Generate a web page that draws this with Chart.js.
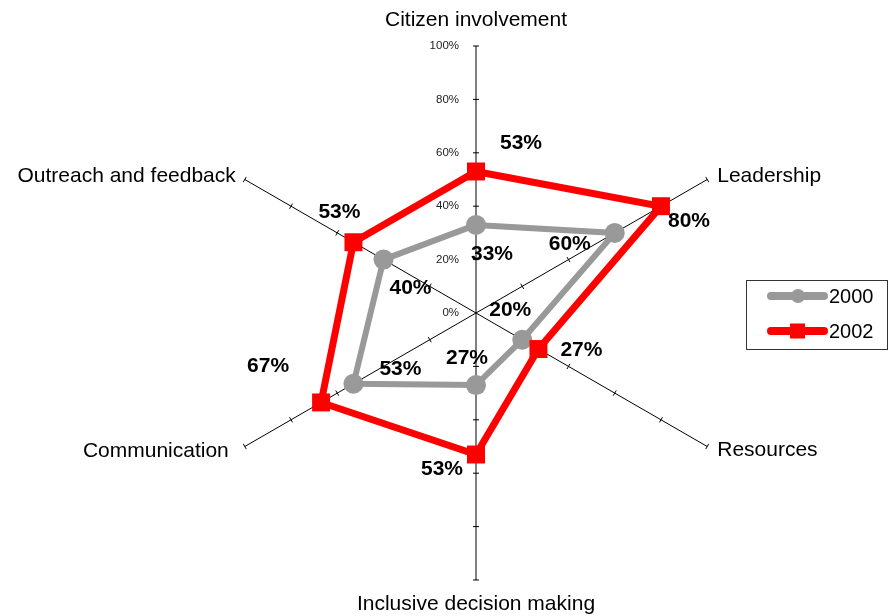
<!DOCTYPE html>
<html>
<head>
<meta charset="utf-8">
<script src="https://cdn.jsdelivr.net/npm/chart.js@4/dist/chart.umd.min.js"></script>
<style>
  html, body { margin: 0; padding: 0; background: #fff; }
  canvas { display: block; }
</style>
</head>
<body>
<canvas id="radar" width="888" height="616"></canvas>
<script>
const categories = ['Citizen involvement', 'Leadership', 'Resources', 'Inclusive decision making', 'Communication', 'Outreach and feedback'];
const seriesNames = ['2000', '2002'];
const values2000 = [33, 60, 20, 27, 53, 40];
const values2002 = [53, 80, 27, 53, 67, 53];
const tickValues = [0, 20, 40, 60, 80, 100];

// where each value label sits relative to its marker
const labelOffsets2000 = [[16, 29], [-45, 11], [-12, -29], [-9, -27], [47, -15], [27, 29]];
const labelOffsets2002 = [[45, -28], [28, 15], [43, 1], [-34, 15], [-53, -36], [-14, -30]];

// category label placement around the spoke ends
const catOffsets = [[0, -26], [10, -3], [10, 4], [0, 24], [-16, 5], [-9, -3]];
const catAlign = ['center', 'left', 'left', 'center', 'right', 'right'];

const FONT = 'Arial, "Liberation Sans", sans-serif';

const radarDecor = {
  id: 'radarDecor',
  beforeDatasetsDraw(chart) {
    const { ctx } = chart;
    const r = chart.scales.r;

    // small tick marks across every spoke
    ctx.save();
    ctx.strokeStyle = '#000';
    ctx.lineWidth = 1;
    categories.forEach((c, i) => {
      const a = r.getIndexAngle(i) - Math.PI / 2;
      const nx = -Math.sin(a), ny = Math.cos(a);
      tickValues.forEach(v => {
        if (v === 0) return;
        const p = r.getPointPosition(i, r.getDistanceFromCenterForValue(v));
        ctx.beginPath();
        ctx.moveTo(p.x - nx * 3, p.y - ny * 3);
        ctx.lineTo(p.x + nx * 3, p.y + ny * 3);
        ctx.stroke();
      });
    });

    // percentage labels on the vertical axis
    ctx.fillStyle = '#222';
    ctx.font = '11.5px ' + FONT;
    ctx.textAlign = 'right';
    ctx.textBaseline = 'middle';
    tickValues.forEach(v => {
      const p = r.getPointPosition(0, r.getDistanceFromCenterForValue(v));
      ctx.fillText(v + '%', p.x - 17, p.y);
    });

    // category names
    ctx.fillStyle = '#000';
    ctx.font = '21px ' + FONT;
    categories.forEach((c, i) => {
      const p = r.getPointPosition(i, r.drawingArea);
      ctx.textAlign = catAlign[i];
      ctx.fillText(c, p.x + catOffsets[i][0], p.y + catOffsets[i][1]);
    });
    ctx.restore();
  },
  afterDatasetsDraw(chart) {
    const { ctx } = chart;
    ctx.save();
    ctx.fillStyle = '#000';
    ctx.font = 'bold 21px ' + FONT;
    ctx.textAlign = 'center';
    ctx.textBaseline = 'middle';
    const offs = [labelOffsets2000, labelOffsets2002];
    chart.data.datasets.forEach((ds, di) => {
      const meta = chart.getDatasetMeta(di);
      meta.data.forEach((pt, i) => {
        ctx.fillText(ds.data[i] + '%', pt.x + offs[di][i][0], pt.y + offs[di][i][1]);
      });
    });
    ctx.restore();
  },
  afterDraw(chart) {
    // legend box on the right
    const { ctx } = chart;
    ctx.save();
    ctx.strokeStyle = '#333';
    ctx.lineWidth = 1;
    ctx.strokeRect(746.5, 280.5, 141, 69);
    chart.data.datasets.forEach((ds, i) => {
      const y = 296 + i * 35;
      ctx.strokeStyle = ds.borderColor;
      ctx.lineWidth = 8;
      ctx.lineCap = 'round';
      ctx.beginPath();
      ctx.moveTo(771, y);
      ctx.lineTo(824, y);
      ctx.stroke();
      ctx.fillStyle = ds.borderColor;
      if (ds.pointStyle === 'rect') {
        ctx.fillRect(790, y - 7.5, 15, 15);
      } else {
        ctx.beginPath();
        ctx.arc(798, y, 7, 0, Math.PI * 2);
        ctx.fill();
      }
      ctx.fillStyle = '#000';
      ctx.font = '20px ' + FONT;
      ctx.textAlign = 'left';
      ctx.textBaseline = 'middle';
      ctx.fillText(ds.label, 829, y + 1);
    });
    ctx.restore();
  }
};

new Chart(document.getElementById('radar'), {
  type: 'radar',
  data: {
    labels: categories,
    datasets: [{
      label: seriesNames[0],
      data: values2000,
      borderColor: '#999999',
      backgroundColor: '#999999',
      borderWidth: 6,
      pointStyle: 'circle',
      pointRadius: 10,
      pointBackgroundColor: '#999999',
      pointBorderWidth: 0,
      fill: false,
      order: 1
    }, {
      label: seriesNames[1],
      data: values2002,
      borderColor: '#ff0000',
      backgroundColor: '#ff0000',
      borderWidth: 7,
      pointStyle: 'rect',
      pointRadius: 12.7,
      pointBackgroundColor: '#ff0000',
      pointBorderWidth: 0,
      fill: false,
      order: 0
    }]
  },
  options: {
    responsive: false,
    animation: false,
    layout: { padding: { left: 209, right: 145, top: 46, bottom: 36 } },
    elements: { line: { tension: 0 } },
    plugins: {
      legend: { display: false },
      tooltip: { enabled: false }
    },
    scales: {
      r: {
        min: 0,
        max: 100,
        ticks: { display: false, stepSize: 20 },
        grid: { display: false },
        angleLines: { display: true, color: '#000', lineWidth: 1 },
        pointLabels: { display: false }
      }
    }
  },
  plugins: [radarDecor]
});
</script>
</body>
</html>
